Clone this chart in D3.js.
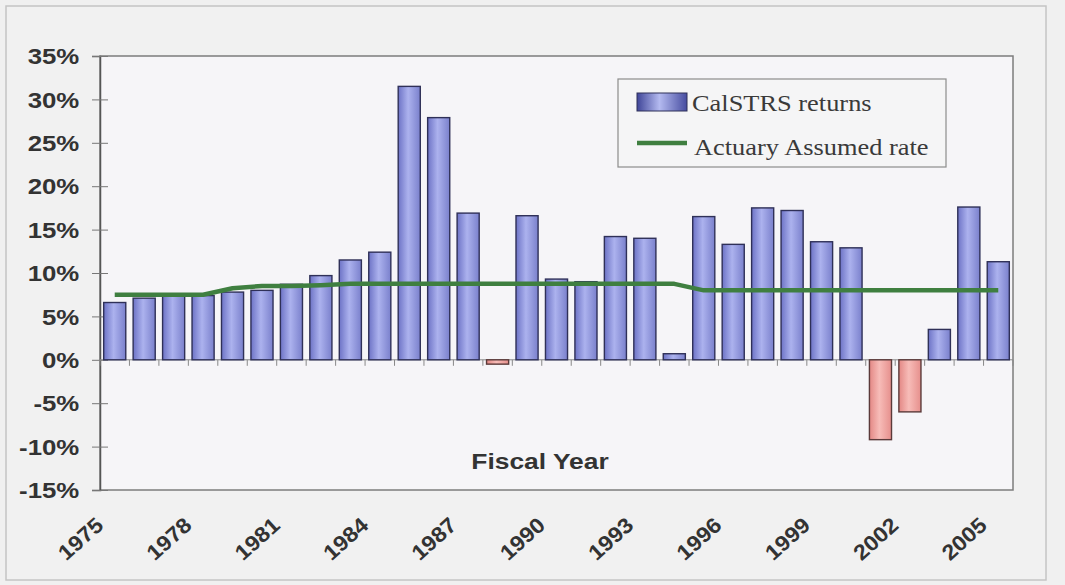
<!DOCTYPE html>
<html>
<head>
<meta charset="utf-8">
<script src="https://cdn.jsdelivr.net/npm/d3@7"></script>
<style>
  html, body { margin: 0; padding: 0; background: #f0f0f0; }
  svg { display: block; }
</style>
</head>
<body>
<svg id="chart" width="1065" height="585"></svg>
<script>
// Fiscal years shown on the category axis
const years = [1975, 1976, 1977, 1978, 1979, 1980, 1981, 1982, 1983, 1984,
               1985, 1986, 1987, 1988, 1989, 1990, 1991, 1992, 1993, 1994,
               1995, 1996, 1997, 1998, 1999, 2000, 2001, 2002, 2003, 2004, 2005];

// Annual CalSTRS investment returns (%)
const returns = [6.6, 7.1, 7.4, 7.4, 7.8, 8.0, 8.7, 9.7, 11.5, 12.4,
                 31.5, 27.9, 16.9, -0.5, 16.6, 9.3, 9.0, 14.2, 14.0, 0.7,
                 16.5, 13.3, 17.5, 17.2, 13.6, 12.9, -9.2, -6.0, 3.5, 17.6, 11.3];

// Actuarial assumed rate of return (%)
const assumedRate = [7.5, 7.5, 7.5, 7.5, 8.25, 8.5, 8.5, 8.6, 8.75, 8.75,
                     8.75, 8.75, 8.75, 8.75, 8.75, 8.75, 8.75, 8.75, 8.75, 8.75,
                     8.0, 8.0, 8.0, 8.0, 8.0, 8.0, 8.0, 8.0, 8.0, 8.0, 8.0];

const yTicks = [-15, -10, -5, 0, 5, 10, 15, 20, 25, 30, 35];
const yearLabels = [1975, 1978, 1981, 1984, 1987, 1990, 1993, 1996, 1999, 2002, 2005];
const seriesNames = ["CalSTRS returns", "Actuary Assumed rate"];
const axisTitle = "Fiscal Year";

const svg = d3.select("#chart");
const plot = { left: 100, right: 1013, top: 56, bottom: 490 };
const textColor = "#333";

const x = d3.scaleBand()
  .domain(years)
  .range([plot.left, plot.right])
  .paddingInner(0.25)
  .paddingOuter(0.125);

const y = d3.scaleLinear()
  .domain([-15, 35])
  .range([plot.bottom, plot.top]);

// Gradients for the bars
const defs = svg.append("defs");
function barGradient(id, edge, mid, edge2) {
  const g = defs.append("linearGradient")
    .attr("id", id).attr("x1", "0").attr("x2", "1").attr("y1", "0").attr("y2", "0");
  g.append("stop").attr("offset", "0%").attr("stop-color", edge);
  g.append("stop").attr("offset", "45%").attr("stop-color", mid);
  g.append("stop").attr("offset", "100%").attr("stop-color", edge2);
}
barGradient("gradPos", "#6d73c6", "#acb2ee", "#7a80cc");
barGradient("gradNeg", "#e38784", "#f7bcb8", "#e68f8c");
barGradient("gradKey", "#3f4598", "#b4baf0", "#464ca0");

// Outer chart frame
svg.append("rect")
  .attr("x", 6).attr("y", 6).attr("width", 1040).attr("height", 574)
  .attr("fill", "#f1f1f1").attr("stroke", "#c4c4c4").attr("stroke-width", 1.5);

// Plot area
svg.append("rect")
  .attr("x", plot.left).attr("y", plot.top)
  .attr("width", plot.right - plot.left).attr("height", plot.bottom - plot.top)
  .attr("fill", "#f6f5f8").attr("stroke", "#7c7c7c").attr("stroke-width", 1.5);

// Value axis
const yAxis = svg.append("g")
  .attr("transform", `translate(${plot.left},0)`)
  .call(d3.axisLeft(y).tickValues(yTicks).tickFormat(d => d + "%").tickSize(8));
yAxis.select(".domain").attr("stroke", "#555").attr("stroke-width", 1.5);
yAxis.selectAll(".tick line").attr("x1", 8).attr("x2", -8).attr("stroke", "#777");
yAxis.selectAll(".tick text")
  .attr("x", -17.3)
  .attr("dy", "0.36em")
  .attr("transform", "scale(1.2,1)")
  .attr("fill", textColor)
  .style("font-family", "'Liberation Sans', Arial, sans-serif")
  .style("font-weight", "bold")
  .style("font-size", "21.5px");

// Category axis labels (low position)
const xAxis = svg.append("g")
  .attr("transform", `translate(0,${plot.bottom})`)
  .call(d3.axisBottom(x).tickValues(yearLabels).tickSize(0));
xAxis.select(".domain").remove();
xAxis.selectAll(".tick text")
  .attr("x", 0).attr("y", 0).attr("dy", 0)
  .attr("text-anchor", "end")
  .attr("transform", "translate(-10,37) rotate(-42) scale(1.08,1)")
  .attr("fill", textColor)
  .style("font-family", "'Liberation Sans', Arial, sans-serif")
  .style("font-weight", "bold")
  .style("font-size", "21.5px");

// Zero line with category tick marks between bars
const y0 = y(0);
svg.append("line")
  .attr("x1", plot.left).attr("x2", plot.right)
  .attr("y1", y0).attr("y2", y0)
  .attr("stroke", "#8a8a8a").attr("stroke-width", 1);

const boundaries = years.map(d => x(d) - x.step() * x.paddingInner() / 2)
  .concat([x(years[years.length - 1]) + x.bandwidth() + x.step() * x.paddingInner() / 2]);
svg.append("g").selectAll("line")
  .data(boundaries)
  .join("line")
  .attr("x1", d => d).attr("x2", d => d)
  .attr("y1", y0).attr("y2", y0 + 6)
  .attr("stroke", "#888").attr("stroke-width", 1);

// Return bars
const barData = years.map((yr, i) => ({ year: yr, value: returns[i] }));
svg.append("g").selectAll("rect")
  .data(barData)
  .join("rect")
  .attr("x", d => x(d.year))
  .attr("width", x.bandwidth())
  .attr("y", d => Math.min(y(d.value), y0))
  .attr("height", d => Math.abs(y(d.value) - y0))
  .attr("fill", d => d.value < 0 ? "url(#gradNeg)" : "url(#gradPos)")
  .attr("stroke", d => d.value < 0 ? "#5b3a3a" : "#2f3058")
  .attr("stroke-width", 1.4);

// Assumed-rate line
const rateData = years.map((yr, i) => ({ year: yr, rate: assumedRate[i] }));
svg.append("path")
  .datum(rateData)
  .attr("fill", "none")
  .attr("stroke", "#3f7f40")
  .attr("stroke-width", 4.5)
  .attr("stroke-linejoin", "round")
  .attr("d", d3.line()
    .x(d => x(d.year) + x.bandwidth() / 2)
    .y(d => y(d.rate)));

// Axis title inside the plot
svg.append("text")
  .attr("transform", "translate(540,469) scale(1.2,1)")
  .attr("text-anchor", "middle")
  .attr("fill", textColor)
  .style("font-family", "'Liberation Sans', Arial, sans-serif")
  .style("font-weight", "bold")
  .style("font-size", "22px")
  .text(axisTitle);

// Legend
const legend = svg.append("g");
legend.append("rect")
  .attr("x", 618).attr("y", 79).attr("width", 328).attr("height", 88)
  .attr("fill", "#f5f5f6").attr("stroke", "#8c8c8c").attr("stroke-width", 1.2);
legend.append("rect")
  .attr("x", 637).attr("y", 93).attr("width", 50).attr("height", 18)
  .attr("fill", "url(#gradKey)").attr("stroke", "#2f3058").attr("stroke-width", 1);
legend.append("line")
  .attr("x1", 637).attr("x2", 687).attr("y1", 143).attr("y2", 143)
  .attr("stroke", "#3f7f40").attr("stroke-width", 4.5);
legend.selectAll("text.key")
  .data(seriesNames)
  .join("text")
  .attr("class", "key")
  .attr("transform", (d, i) => `translate(${i === 0 ? 692 : 694},${i === 0 ? 111 : 155}) scale(1.1,1)`)
  .attr("fill", "#3a3a3a")
  .style("font-family", "'Liberation Serif', 'Times New Roman', serif")
  .style("font-size", "24px")
  .text(d => d);
</script>
</body>
</html>
